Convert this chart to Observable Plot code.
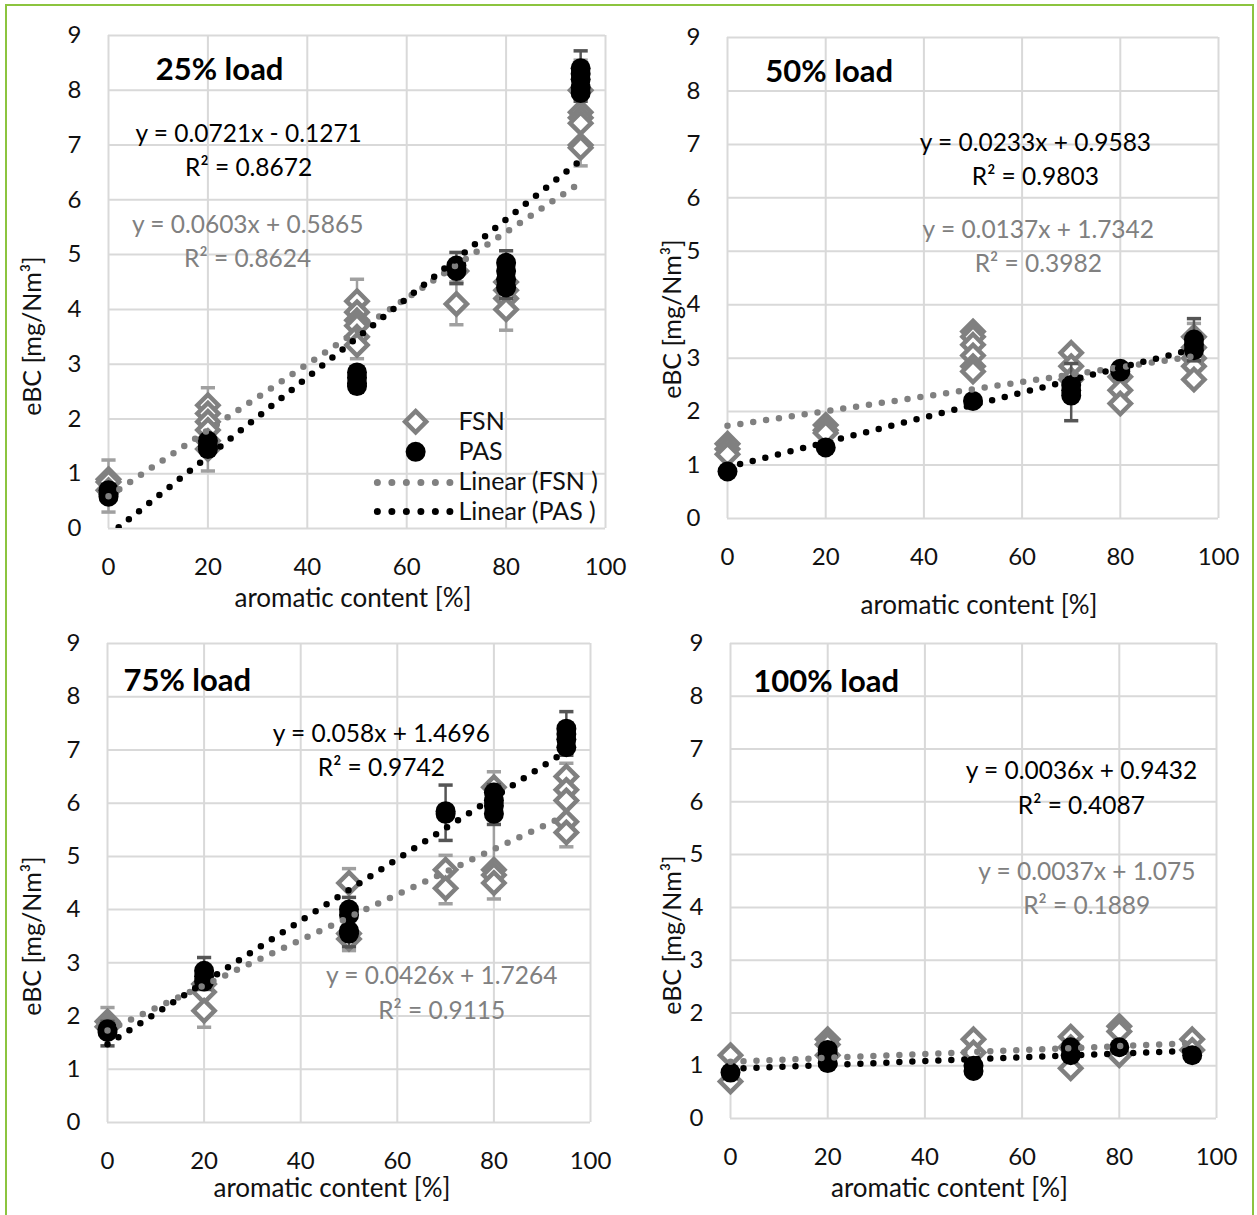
<!DOCTYPE html>
<html>
<head>
<meta charset="utf-8">
<script src="https://cdn.jsdelivr.net/npm/d3@7"></script>
<script src="https://cdn.jsdelivr.net/npm/@observablehq/plot@0.6"></script>
<style>
  body { margin: 0; background: #fff; }
  #wrap { position: relative; width: 1257px; height: 1215px; overflow: hidden; background: #fff; }
  #border { position: absolute; left: 5px; top: 4px; width: 1249px; height: 1240px; border: 2px solid #8cc43f; box-sizing: border-box; z-index: 10; pointer-events: none; }
</style>
</head>
<body>
<div id="wrap"></div>
<script>
// ---------- data ----------
const xTicks = [0, 20, 40, 60, 80, 100];
const yTicks = [0, 1, 2, 3, 4, 5, 6, 7, 8, 9];
const aromatic = [0, 20, 50, 70, 80, 95];

// 25% load
const fsn25 = [[0.9, 0.85, 0.7], [2.25, 2.1, 1.95, 1.8, 1.6, 1.45], [4.15, 3.95, 3.8, 3.7, 3.5, 3.35], [4.7, 4.1], [4.5, 4.35, 4.2, 4.0], [8.0, 7.6, 7.5, 7.4, 7.0, 6.95]];
const pas25 = [[0.7, 0.62, 0.58], [1.6, 1.5, 1.45], [2.85, 2.75, 2.65, 2.6], [4.8, 4.7], [4.85, 4.7, 4.55, 4.4], [8.4, 8.3, 8.2, 8.05, 7.95]];
const fsnLo25 = [0.3, 1.05, 3.1, 3.72, 3.62, 6.62];
const fsnHi25 = [1.25, 2.57, 4.55, 4.5, 4.9, 8.55];
const pasLo25 = [0.5, 1.35, 2.5, 4.47, 4.2, 7.8];
const pasHi25 = [0.8, 1.7, 2.95, 5.04, 5.07, 8.72];
const fits25 = [["FSN", 0.0603, 0.5865, 0.8624], ["PAS", 0.0721, -0.1271, 0.8672]];

// 50% load
const fsn50 = [[1.4, 1.3, 1.2], [1.75, 1.65, 1.6], [3.5, 3.4, 3.25, 3.05, 2.85, 2.75], [3.1, 2.85, 2.6], [2.65, 2.4, 2.15], [3.4, 3.2, 3.0, 2.85, 2.6]];
const pas50 = [[0.88], [1.33], [2.2], [2.5, 2.4, 2.3], [2.8, 2.75], [3.35, 3.25, 3.15]];
const fsnLo50 = [null, null, null, null, null, 2.5];
const fsnHi50 = [null, null, null, null, null, 3.65];
const pasLo50 = [null, null, null, 1.83, null, 2.95];
const pasHi50 = [null, null, null, 2.9, null, 3.74];
const fits50 = [["FSN", 0.0137, 1.7342, 0.3982], ["PAS", 0.0233, 0.9583, 0.9803]];

// 75% load
const fsn75 = [[1.9, 1.8], [2.6, 2.45, 2.1], [4.5, 3.55, 3.45], [4.75, 4.4], [6.3, 4.75, 4.65, 4.5], [6.5, 6.25, 6.05, 5.65, 5.45]];
const pas75 = [[1.75, 1.7], [2.85, 2.75, 2.65], [4.0, 3.9, 3.6, 3.55], [5.85, 5.8], [6.2, 6.05, 5.95, 5.8], [7.4, 7.3, 7.2, 7.05]];
const fsnLo75 = [1.6, 1.79, 3.23, 4.11, 4.2, 5.18];
const fsnHi75 = [2.16, 2.9, 4.77, 5.02, 6.59, 6.75];
const pasLo75 = [1.44, 2.5, 3.3, 5.3, 5.6, 6.9];
const pasHi75 = [1.9, 3.1, 4.23, 6.34, 6.35, 7.72];
const fits75 = [["FSN", 0.0426, 1.7264, 0.9115], ["PAS", 0.058, 1.4696, 0.9742]];

// 100% load
const fsn100 = [[1.2, 0.7], [1.5, 1.4, 1.2], [1.5, 1.25], [1.55, 1.35, 0.95], [1.75, 1.65, 1.2], [1.5, 1.3]];
const pas100 = [[0.87], [1.3, 1.2, 1.05], [1.0, 0.9], [1.35, 1.2], [1.35], [1.2]];
const noErr = [null, null, null, null, null, null];
const fits100 = [["FSN", 0.0037, 1.075, 0.1889], ["PAS", 0.0036, 0.9432, 0.4087]];

const titles = ["25% load", "50% load", "75% load", "100% load"];
const xLabel = "aromatic content [%]";
const yLabel = "eBC [mg/Nm³]";
const legendLabels = ["FSN", "PAS", "Linear (FSN )", "Linear (PAS )"];

// ---------- styling / layout ----------
const FSN_COLOR = "#808080";
const PAS_COLOR = "#000000";
const GRID = "#d9d9d9";
const FONT = "Lato, 'Open Sans', sans-serif";

const capSymbol = { draw(context, size) { const w = Math.sqrt(size); context.moveTo(-w, 0); context.lineTo(w, 0); } };

const panels = [
  { title: titles[0], fsn: fsn25, pas: pas25, fsnLo: fsnLo25, fsnHi: fsnHi25, pasLo: pasLo25, pasHi: pasHi25, fits: fits25,
    left: 0, top: 0, width: 628, height: 615, mL: 108, mR: 23, mT: 35, mB: 87,
    titleXY: [9.5, 8.36], eqXY: { PAS: [28.2, 6.94], FSN: [28, 5.29] },
    yLab: [-76, 54], xLab: [-4, 70], legend: true },
  { title: titles[1], fsn: fsn50, pas: pas50, fsnLo: fsnLo50, fsnHi: fsnHi50, pasLo: pasLo50, pasHi: pasHi50, fits: fits50,
    left: 628, top: 0, width: 629, height: 615, mL: 99, mR: 39, mT: 37, mB: 97,
    titleXY: [7.7, 8.35], eqXY: { PAS: [62.7, 6.77], FSN: [63.3, 5.13] },
    yLab: [-55, 41], xLab: [6, 87] },
  { title: titles[2], fsn: fsn75, pas: pas75, fsnLo: fsnLo75, fsnHi: fsnHi75, pasLo: pasLo75, pasHi: pasHi75, fits: fits75,
    left: 0, top: 615, width: 628, height: 600, mL: 107, mR: 38, mT: 28, mB: 93,
    titleXY: [3.3, 8.29], eqXY: { PAS: [56.7, 7.03], FSN: [69.2, 2.48] },
    yLab: [-75, 53], xLab: [-17, 66] },
  { title: titles[3], fsn: fsn100, pas: pas100, fsnLo: noErr, fsnHi: noErr, pasLo: noErr, pasHi: noErr, fits: fits100,
    left: 628, top: 615, width: 629, height: 600, mL: 102, mR: 41, mT: 28, mB: 97,
    titleXY: [4.7, 8.26], eqXY: { PAS: [72.2, 6.31], FSN: [73.3, 4.41] },
    yLab: [-58, 54], xLab: [-24, 70] }
];

function eqText([, slope, intercept, r2]) {
  return `y = ${slope}x ${intercept < 0 ? "-" : "+"} ${Math.abs(intercept)}\nR² = ${r2}`;
}

function points(groups) {
  return aromatic.flatMap((x, i) => groups[i].map(y => ({ x, y })));
}
function errors(lo, hi) {
  return aromatic.map((x, i) => ({ x, lo: lo[i], hi: hi[i] })).filter(d => d.lo != null);
}
function caps(rows) {
  return rows.flatMap(d => [{ x: d.x, y: d.lo }, { x: d.x, y: d.hi }]);
}

const wrap = document.getElementById("wrap");

for (const p of panels) {
  const fsnRows = points(p.fsn);
  const pasRows = points(p.pas);
  const fsnErr = errors(p.fsnLo, p.fsnHi);
  const pasErr = errors(p.pasLo, p.pasHi);
  const xr = [aromatic[0], aromatic[aromatic.length - 1]];
  const trend = p.fits.map(f => ({ name: f[0], rows: xr.map(x => ({ x, y: f[2] + f[1] * x })), clip: f[2] < 0 }));
  const dotted = (rows, color, clip) => Plot.line(rows, { x: "x", y: "y", stroke: color, strokeWidth: 6.5, strokeDasharray: "0 13", strokeLinecap: "round", clip });

  const marks = [
    Plot.gridY({ ticks: yTicks, stroke: GRID, strokeOpacity: 1, strokeWidth: 2 }),
    Plot.gridX({ ticks: xTicks, stroke: GRID, strokeOpacity: 1, strokeWidth: 2 }),
    Plot.axisX({ ticks: xTicks, tickSize: 0, tickPadding: 29, label: null, fill: "#111" }),
    Plot.axisY({ ticks: yTicks, tickSize: 0, tickPadding: 27, label: null, fill: "#111" }),
    Plot.ruleX(fsnErr, { x: "x", y1: "lo", y2: "hi", stroke: "#a0a0a0", strokeWidth: 2.5 }),
    Plot.dot(caps(fsnErr), { x: "x", y: "y", symbol: capSymbol, r: 4, fill: "none", stroke: "#a0a0a0", strokeWidth: 3.5 }),
    Plot.dot(fsnRows, { x: "x", y: "y", symbol: "diamond2", r: 9.5, fill: "white", stroke: FSN_COLOR, strokeWidth: 4.5 }),
    Plot.ruleX(pasErr, { x: "x", y1: "lo", y2: "hi", stroke: "#555", strokeWidth: 2.5 }),
    Plot.dot(caps(pasErr), { x: "x", y: "y", symbol: capSymbol, r: 4, fill: "none", stroke: "#555", strokeWidth: 3.5 }),
    Plot.dot(pasRows, { x: "x", y: "y", r: 10, fill: PAS_COLOR }),
    dotted(trend[0].rows, FSN_COLOR, trend[0].clip),
    dotted(trend[1].rows, PAS_COLOR, trend[1].clip),
    Plot.text([eqText(p.fits[1])], { text: d => d, x: p.eqXY.PAS[0], y: p.eqXY.PAS[1], fill: PAS_COLOR, fontSize: 24.5, lineHeight: 1.4, textAnchor: "middle" }),
    Plot.text([eqText(p.fits[0])], { text: d => d, x: p.eqXY.FSN[0], y: p.eqXY.FSN[1], fill: FSN_COLOR, fontSize: 24.5, lineHeight: 1.4, textAnchor: "middle" }),
    Plot.text([p.title], { text: d => d, x: p.titleXY[0], y: p.titleXY[1], textAnchor: "start", fontSize: 31, fontWeight: "bold", fill: "#000" }),
    Plot.text([xLabel], { text: d => d, frameAnchor: "bottom", textAnchor: "middle", lineAnchor: "middle", dx: p.xLab[0], dy: p.xLab[1], fontSize: 26, fill: "#111" }),
    Plot.text([yLabel], { text: d => d, frameAnchor: "left", textAnchor: "middle", lineAnchor: "middle", rotate: -90, dx: p.yLab[0], dy: p.yLab[1], fontSize: 25, fill: "#111" })
  ];

  if (p.legend) {
    const lx0 = 54.1, lx1 = 69.2, tx = 70.4;
    const ly = [1.95, 1.40, 0.84, 0.31];
    marks.push(
      Plot.dot([legendLabels[0]], { x: 61.8, y: ly[0], symbol: "diamond2", r: 9.5, fill: "white", stroke: FSN_COLOR, strokeWidth: 4.5 }),
      Plot.dot([legendLabels[1]], { x: 61.8, y: ly[1], r: 10, fill: PAS_COLOR }),
      Plot.line([lx0, lx1], { x: d => d, y: ly[2], stroke: FSN_COLOR, strokeWidth: 7, strokeDasharray: "0 14.5", strokeLinecap: "round" }),
      Plot.line([lx0, lx1], { x: d => d, y: ly[3], stroke: PAS_COLOR, strokeWidth: 7, strokeDasharray: "0 14.5", strokeLinecap: "round" }),
      Plot.text(legendLabels, { text: d => d, x: tx, y: (d, i) => ly[i], textAnchor: "start", fontSize: 25, fill: "#111" })
    );
  }

  const svg = Plot.plot({
    width: p.width, height: p.height,
    marginLeft: p.mL, marginRight: p.mR, marginTop: p.mT, marginBottom: p.mB,
    x: { domain: [0, 100] },
    y: { domain: [0, 9] },
    style: { fontFamily: FONT, fontSize: "24px", background: "transparent", overflow: "visible", color: "#111" },
    marks
  });
  svg.style.position = "absolute";
  svg.style.left = p.left + "px";
  svg.style.top = p.top + "px";
  svg.style.maxWidth = "none";
  wrap.appendChild(svg);
}

const border = document.createElement("div");
border.id = "border";
wrap.appendChild(border);
</script>
</body>
</html>
